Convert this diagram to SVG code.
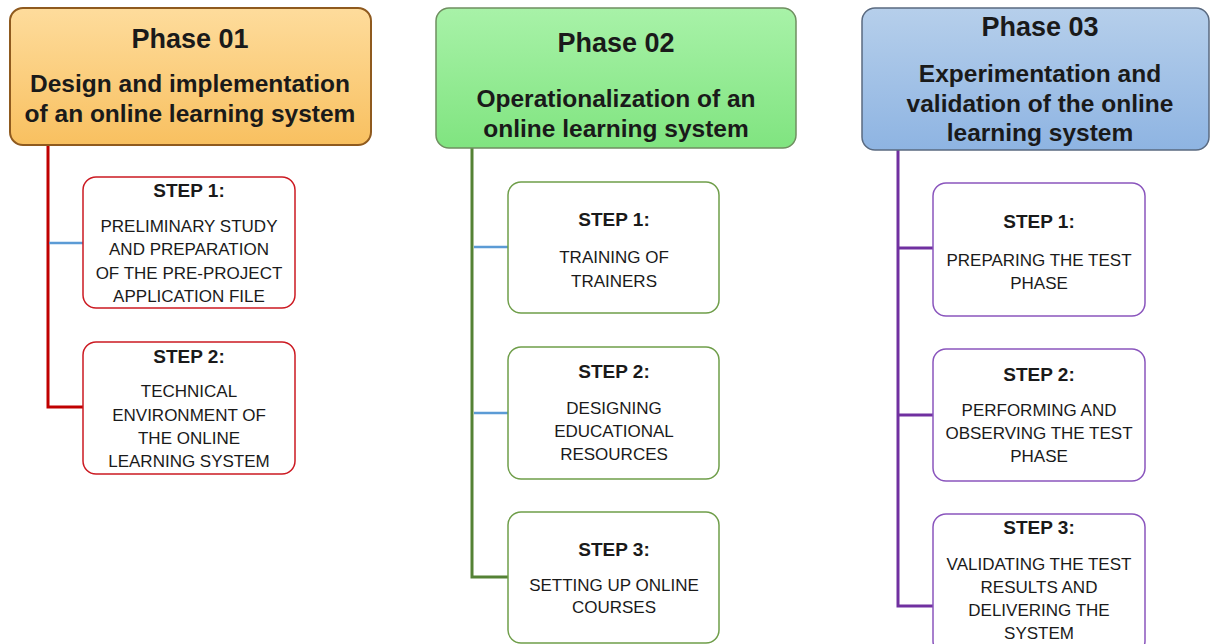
<svg xmlns="http://www.w3.org/2000/svg" width="1210" height="644" viewBox="0 0 1210 644">
<defs>
<linearGradient id="g1" x1="0" y1="0" x2="0" y2="1"><stop offset="0" stop-color="#fedc9c"/><stop offset="1" stop-color="#f8c060"/></linearGradient>
<linearGradient id="g2" x1="0" y1="0" x2="0" y2="1"><stop offset="0" stop-color="#a8f2a8"/><stop offset="1" stop-color="#80e480"/></linearGradient>
<linearGradient id="g3" x1="0" y1="0" x2="0" y2="1"><stop offset="0" stop-color="#b6cfeb"/><stop offset="1" stop-color="#8eb4e2"/></linearGradient>
<style>
text{font-family:"Liberation Sans",Arial,sans-serif;fill:#1a1a1a;text-anchor:middle}
.pt{font-size:27px;font-weight:bold}
.ps{font-size:24.5px;font-weight:bold}
.st{font-size:19px;font-weight:bold}
.sx{font-size:17px}
.step{fill:#fff;stroke-width:1.5}
.s1{stroke:#cc1a22}
.s2{stroke:#6f9e4a}
.s3{stroke:#8a55bd}
.conn{fill:none;stroke-width:3}
.blue{stroke:#5b9bd5;stroke-width:2.5;fill:none}
</style>
</defs>
<rect width="1210" height="644" fill="#fff"/>
<g id="connectors">
<polyline class="conn" stroke="#c00000" points="48,145 48,407 83,407"/>
<line class="blue" x1="49" y1="243" x2="83" y2="243"/>
<polyline class="conn" stroke="#548235" points="472,148 472,577 508,577"/>
<line class="blue" x1="474" y1="247" x2="508" y2="247"/>
<line class="blue" x1="474" y1="413" x2="508" y2="413"/>
<polyline class="conn" stroke="#7030a0" points="898,150 898,606 933,606"/>
<line class="conn" stroke="#7030a0" x1="898" y1="248" x2="933" y2="248"/>
<line class="conn" stroke="#7030a0" x1="898" y1="415" x2="933" y2="415"/>
</g>
<g id="phase1">
<rect x="10" y="8" width="361" height="137" rx="13" fill="url(#g1)" stroke="#8f5a1e" stroke-width="2"/>
<text class="pt" x="190" y="48">Phase 01</text>
<text class="ps" x="190" y="92">Design and implementation</text>
<text class="ps" x="190" y="122">of an online learning system</text>
</g>
<g id="p1s1">
<rect class="step s1" x="83" y="177" width="212" height="131" rx="13"/>
<text class="st" x="189" y="197">STEP 1:</text>
<text class="sx" x="189" y="232">PRELIMINARY STUDY</text>
<text class="sx" x="189" y="255">AND PREPARATION</text>
<text class="sx" x="189" y="279">OF THE PRE-PROJECT</text>
<text class="sx" x="189" y="302">APPLICATION FILE</text>
</g>
<g id="p1s2">
<rect class="step s1" x="83" y="342" width="212" height="132" rx="13"/>
<text class="st" x="189" y="363">STEP 2:</text>
<text class="sx" x="189" y="397">TECHNICAL</text>
<text class="sx" x="189" y="421">ENVIRONMENT OF</text>
<text class="sx" x="189" y="444">THE ONLINE</text>
<text class="sx" x="189" y="467">LEARNING SYSTEM</text>
</g>
<g id="phase2">
<rect x="436" y="8" width="360" height="140" rx="13" fill="url(#g2)" stroke="#6f8f60" stroke-width="1.5"/>
<text class="pt" x="616" y="52">Phase  02</text>
<text class="ps" x="616" y="107">Operationalization of an</text>
<text class="ps" x="616" y="137">online learning system</text>
</g>
<g id="p2s1">
<rect class="step s2" x="508" y="182" width="211" height="131" rx="13"/>
<text class="st" x="614" y="226">STEP 1:</text>
<text class="sx" x="614" y="263">TRAINING OF</text>
<text class="sx" x="614" y="287">TRAINERS</text>
</g>
<g id="p2s2">
<rect class="step s2" x="508" y="347" width="211" height="132" rx="13"/>
<text class="st" x="614" y="378">STEP 2:</text>
<text class="sx" x="614" y="414">DESIGNING</text>
<text class="sx" x="614" y="437">EDUCATIONAL</text>
<text class="sx" x="614" y="460">RESOURCES</text>
</g>
<g id="p2s3">
<rect class="step s2" x="508" y="512" width="211" height="131" rx="13"/>
<text class="st" x="614" y="556">STEP 3:</text>
<text class="sx" x="614" y="591">SETTING UP ONLINE</text>
<text class="sx" x="614" y="613">COURSES</text>
</g>
<g id="phase3">
<rect x="862" y="8" width="347" height="142" rx="13" fill="url(#g3)" stroke="#5a6a80" stroke-width="1.5"/>
<text class="pt" x="1040" y="36">Phase 03</text>
<text class="ps" x="1040" y="82">Experimentation and</text>
<text class="ps" x="1040" y="112">validation of the online</text>
<text class="ps" x="1040" y="141">learning system</text>
</g>
<g id="p3s1">
<rect class="step s3" x="933" y="183" width="212" height="133" rx="13"/>
<text class="st" x="1039" y="228">STEP 1:</text>
<text class="sx" x="1039" y="266">PREPARING THE TEST</text>
<text class="sx" x="1039" y="289">PHASE</text>
</g>
<g id="p3s2">
<rect class="step s3" x="933" y="349" width="212" height="132" rx="13"/>
<text class="st" x="1039" y="381">STEP 2:</text>
<text class="sx" x="1039" y="416">PERFORMING AND</text>
<text class="sx" x="1039" y="439">OBSERVING THE TEST</text>
<text class="sx" x="1039" y="462">PHASE</text>
</g>
<g id="p3s3">
<rect class="step s3" x="933" y="514" width="212" height="140" rx="13"/>
<text class="st" x="1039" y="534">STEP 3:</text>
<text class="sx" x="1039" y="570">VALIDATING THE TEST</text>
<text class="sx" x="1039" y="593">RESULTS AND</text>
<text class="sx" x="1039" y="616">DELIVERING THE</text>
<text class="sx" x="1039" y="639">SYSTEM</text>
</g>
</svg>
